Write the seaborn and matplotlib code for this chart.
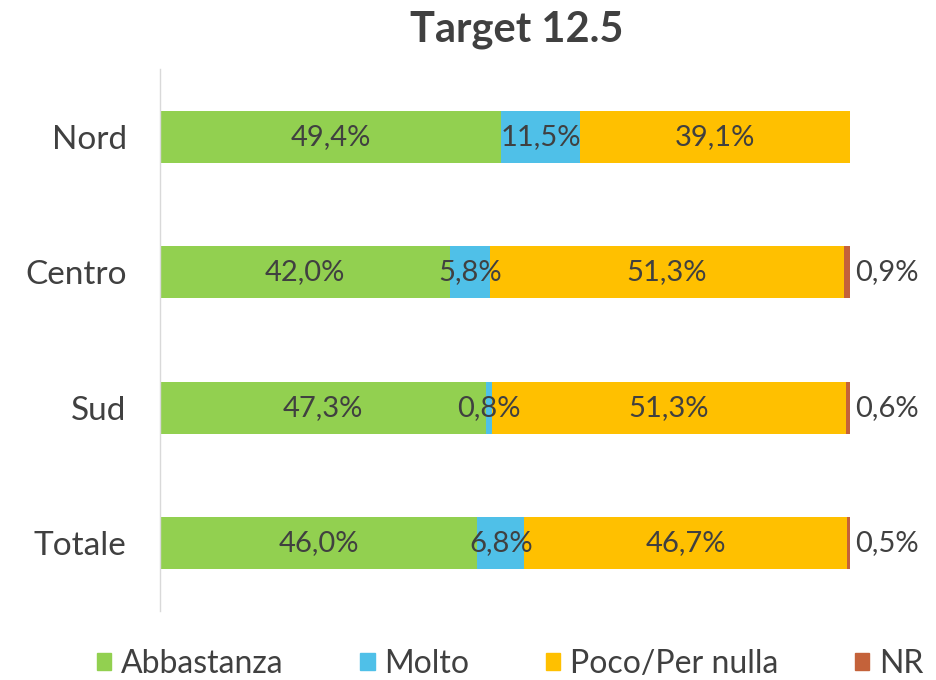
import matplotlib
matplotlib.use("Agg")
import matplotlib.pyplot as plt
import seaborn as sns
import pandas as pd
import numpy as np

# data
regions = ["Nord", "Centro", "Sud", "Totale"]
abbastanza = [49.4, 42.0, 47.3, 46.0]
molto = [11.5, 5.8, 0.8, 6.8]
poco = [39.1, 51.3, 51.3, 46.7]
nr = [0.0, 0.9, 0.6, 0.5]

series = ["Abbastanza", "Molto", "Poco/Per nulla", "NR"]
colors = ["#92D050", "#4FC0E8", "#FFC000", "#C4623A"]

sns.set_theme(style="white")
plt.rcParams["font.family"] = ["Lato", "DejaVu Sans"]
txt = "#404040"

df = pd.DataFrame({"region": regions, "Abbastanza": abbastanza, "Molto": molto,
                   "Poco/Per nulla": poco, "NR": nr})
cum = df[series].cumsum(axis=1)

fig = plt.figure(figsize=(9.37, 6.8), dpi=100)
ax = fig.add_axes([160 / 937, 1 - 611 / 680, 690 / 937, 542 / 680])

# stacked bars: draw cumulative totals from the outermost inwards
for s, c in reversed(list(zip(series, colors))):
    sns.barplot(x=cum[s], y=df["region"], color=c, orient="h", width=0.385,
                saturation=1, ax=ax, linewidth=0)

ax.set_xlim(0, 100)
ax.set_ylim(3.5, -0.5)
ax.set_xticks([])
ax.set_xlabel("")
ax.set_ylabel("")
ax.tick_params(axis="y", length=0, pad=24, labelsize=24, labelcolor=txt)
for sp in ["top", "right", "bottom"]:
    ax.spines[sp].set_visible(False)
ax.spines["left"].set_color("#d9d9d9")
ax.spines["left"].set_linewidth(1)

# value labels
for i in range(len(regions)):
    left = 0
    for s in series:
        v = df[s][i]
        lab = f"{v:.1f}%".replace(".", ",")
        if s == "NR":
            if v > 0:
                ax.text(left + v + 0.8, i, lab, ha="left", va="center",
                        fontsize=21, color=txt)
        else:
            ax.text(left + v / 2, i, lab, ha="center", va="center",
                    fontsize=21, color=txt)
        left += v

fig.text(517 / 937, 1 - 30 / 680, "Target 12.5", ha="center", va="center",
         fontsize=30, fontweight="bold", color=txt)

handles = [plt.Rectangle((0, 0), 1, 1, color=c) for c in colors]
fig.legend(handles, series, loc="center", bbox_to_anchor=(510 / 937, 1 - 664 / 680),
           ncol=4, frameon=False, fontsize=23, handlelength=0.45, handleheight=0.45,
           handletextpad=0.3, columnspacing=2.4, labelcolor=txt)

fig.savefig("out.png", dpi=100)
